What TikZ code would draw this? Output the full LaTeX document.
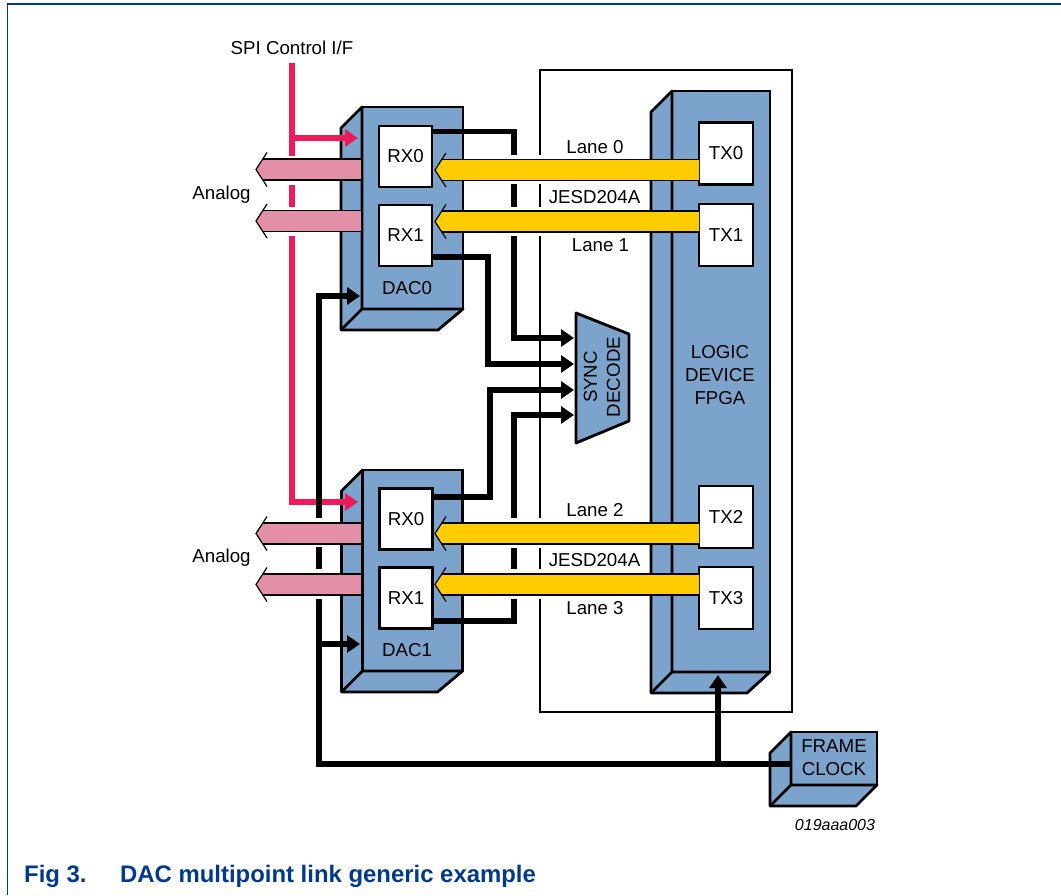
\documentclass[tikz,border=0pt]{standalone}
\usepackage{fontspec}
\setmainfont{Liberation Sans}
\usepackage{xcolor}
\usepackage{tikz}
\usetikzlibrary{calc,arrows.meta}

\definecolor{boxblue}{HTML}{7BA3CB}
\definecolor{spired}{HTML}{EE1A5C}
\definecolor{analogpink}{HTML}{E38FA8}
\definecolor{laneyellow}{HTML}{FFCC00}
\definecolor{pagenavy}{HTML}{003A8C}

\tikzset{
  solidbox/.style={draw,fill=boxblue,line width=2.8pt,outer sep=0pt,inner sep=0pt},
  depthface/.style={draw,fill=boxblue,line width=2.8pt,line join=round},
  portbox/.style={draw,fill=white,line width=2.8pt,outer sep=0pt,inner sep=0pt,minimum width=53pt,minimum height=61pt,font=\fontsize{18.7}{22}\selectfont},
  txt/.style={inner sep=0pt,font=\fontsize{18.7}{23}\selectfont,align=center},
  sig/.style={line width=5.5pt,-{Triangle[length=13pt,width=17pt]}},
  spi/.style={line width=5.5pt,color=spired,-{Triangle[length=13pt,width=17pt]}},
  gapfill/.style={fill=white},
}

% #1 right end, #2 tip, #3 colour
\newcommand{\busarrow}[3]{%
  \fill[#3] ($(#1)+(0,-10.5)$) -- ($(#2)+(7,-10.5)$) -- (#2) -- ($(#2)+(7,10.5)$) -- ($(#1)+(0,10.5)$) -- cycle;
  \draw[line width=1.2pt] ($(#1)+(0,-10.5)$) -- ($(#2)+(7,-10.5)$);
  \draw[line width=1.2pt] ($(#1)+(0,10.5)$) -- ($(#2)+(7,10.5)$);
  \draw[line width=1.2pt] ($(#2)+(11,-17)$) -- (#2) -- ($(#2)+(11,17)$);
}
% #1 front node, #2 how far the lower right corner sits back
\newcommand{\boxdepth}[2]{%
  \draw[depthface] (#1.north west) -- ++(-21,21) -- ($(#1.south west)+(-21,21)$) -- ($(#1.south east)+(-#2,21)$) -- (#1.south east) -- (#1.south west) -- cycle;
  \draw[depthface] (#1.south west) -- ++(-21,21);
}

\begin{document}
\begin{tikzpicture}[x=1pt,y=-1pt]
    \useasboundingbox (0,0) rectangle (1061,895);
    \draw[pagenavy,line width=1.5pt] (1061,4) -- (7.5,4) -- (7.5,895);

    % link frame
    \draw[line width=2.8pt] (540,70) rectangle (792,712);

    % solid blocks
    \node[solidbox,minimum width=101pt,minimum height=202pt] (dac0) at (412.5,208) {};
    \boxdepth{dac0}{25}
    \node[solidbox,minimum width=100pt,minimum height=201pt] (dac1) at (412.5,570.5) {};
    \boxdepth{dac1}{25}
    \node[solidbox,minimum width=98pt,minimum height=581pt] (fpga) at (721,381.5) {};
    \boxdepth{fpga}{23}
    \node[solidbox,minimum width=86pt,minimum height=53pt] (clock) at (834,758.5) {};
    \boxdepth{clock}{21}

    % sync decoder
    \coordinate (synca) at (576,313);
    \coordinate (syncb) at (629,334);
    \coordinate (syncc) at (629,421);
    \coordinate (syncd) at (576,443);
    \draw[depthface] (synca) -- (syncb) -- (syncc) -- (syncd) -- cycle;
    \node[txt,rotate=90] (synctxt) at (602,377) {SYNC\\DECODE};

    % free ends
    \coordinate (spitop) at (292,63);
    \coordinate (spia) at (358,138);
    \coordinate (spib) at (358,502);
    \coordinate (rxaout) at (431,131.5);
    \coordinate (rxbout) at (431,257);
    \coordinate (rxcout) at (431,497);
    \coordinate (rxdout) at (431,621);
    \coordinate (syncina) at (574,338);
    \coordinate (syncinb) at (574,364);
    \coordinate (syncinc) at (574,390);
    \coordinate (syncind) at (574,415);
    \coordinate (clockout) at (792,764);
    \coordinate (clkbend) at (319,764);
    \coordinate (clkdaca) at (360,296);
    \coordinate (clkdacb) at (360,644);
    \coordinate (clkfpga) at (718,675);

    % control lines
    \draw[spi] (spitop) |- (spib);
    \draw[spi] (spitop |- spia) -- (spia);

    % sync lines
    \draw[sig] (rxaout) -- ++(83,0) -- ++(0,206.5) -- (syncina);
    \draw[sig] (rxbout) -- ++(57,0) -- ++(0,107) -- (syncinb);
    \draw[sig] (rxcout) -- ++(59,0) -- ++(0,-107) -- (syncinc);
    \draw[sig] (rxdout) -- ++(83,0) -- ++(0,-206) -- (syncind);

    % clock lines
    \draw[sig] (clockout) -- (clkbend) |- (clkdaca);
    \draw[sig] (clkbend |- clkdacb) -- (clkdacb);
    \draw[sig] (clkfpga |- clockout) -- (clkfpga);

    % white breaks where the wide arrows pass
    \fill[gapfill] (272,155.5) rectangle (335,185);
    \fill[gapfill] (272,207) rectangle (335,236);
    \fill[gapfill] (272,518) rectangle (335,547);
    \fill[gapfill] (272,569) rectangle (335,599);
    \fill[gapfill] (465,155) rectangle (648,184);
    \fill[gapfill] (465,207) rectangle (648,236);
    \fill[gapfill] (465,518) rectangle (648,548);
    \fill[gapfill] (465,569) rectangle (648,599);

    % analog outputs
    \coordinate (analoga) at (256,169.5);
    \coordinate (analogb) at (256,221);
    \coordinate (analogc) at (256,533.5);
    \coordinate (analogd) at (256,584.5);
    \busarrow{dac0.west |- analoga}{analoga}{analogpink}
    \busarrow{dac0.west |- analogb}{analogb}{analogpink}
    \busarrow{dac1.west |- analogc}{analogc}{analogpink}
    \busarrow{dac1.west |- analogd}{analogd}{analogpink}
    \draw[line width=2.8pt] (dac0.north west) -- (dac0.south west);
    \draw[line width=2.8pt] (dac1.north west) -- (dac1.south west);

    % lanes
    \coordinate (lanea) at (435,170);
    \coordinate (laneb) at (435,221.5);
    \coordinate (lanec) at (435,533.5);
    \coordinate (laned) at (435,584.5);
    \node[portbox,minimum width=54pt,minimum height=62pt] (tx0) at (726,153.5) {TX0};
    \node[portbox,minimum width=54pt,minimum height=62pt] (tx1) at (726,235) {TX1};
    \node[portbox,minimum width=54pt,minimum height=62pt] (tx2) at (726,517) {TX2};
    \node[portbox,minimum width=54pt,minimum height=62pt] (tx3) at (726,598) {TX3};
    \busarrow{tx0.west |- lanea}{lanea}{laneyellow}
    \busarrow{tx1.west |- laneb}{laneb}{laneyellow}
    \busarrow{tx2.west |- lanec}{lanec}{laneyellow}
    \busarrow{tx3.west |- laned}{laned}{laneyellow}

    \node[portbox] (rx0a) at (405.5,156.5) {RX0};
    \node[portbox] (rx1a) at (405.5,235.5) {RX1};
    \node[portbox] (rx0b) at (406,519) {RX0};
    \node[portbox] (rx1b) at (406,598) {RX1};
    \node[txt] (dacnamea) at (407,288) {DAC0};
    \node[txt] (dacnameb) at (407,650) {DAC1};
    \node[txt] (spitxt) at (292,48) {SPI Control I/F};
    \node[txt] (analogtxta) at (221.5,195) {Analog};
    \node[txt] (analogtxtb) at (221.5,558) {Analog};
    \node[txt] (lanetxta) at (595,147) {Lane 0};
    \node[txt] (jesdtxta) at (594.5,197) {JESD204A};
    \node[txt] (lanetxtb) at (600.5,245) {Lane 1};
    \node[txt] (lanetxtc) at (595,510) {Lane 2};
    \node[txt] (jesdtxtb) at (594.5,560) {JESD204A};
    \node[txt] (lanetxtd) at (595,608) {Lane 3};
    \node[txt] (fpgatxt) at (720,375) {LOGIC\\DEVICE\\FPGA};
    \node[txt] (clocktxt) at (834,758) {FRAME\\CLOCK};
    \node[inner sep=0pt,font=\fontsize{16}{19}\itshape\selectfont] (drawno) at (835,825) {019aaa003};
    \node[anchor=base west,inner sep=0pt,text=pagenavy,font=\fontsize{23.9}{27}\bfseries\selectfont] (figno) at (24,882) {Fig 3.};
    \node[anchor=base west,inner sep=0pt,text=pagenavy,font=\fontsize{23.9}{27}\bfseries\selectfont] (figtitle) at (120,882) {DAC multipoint link generic example};
    \end{tikzpicture}
\end{document}
